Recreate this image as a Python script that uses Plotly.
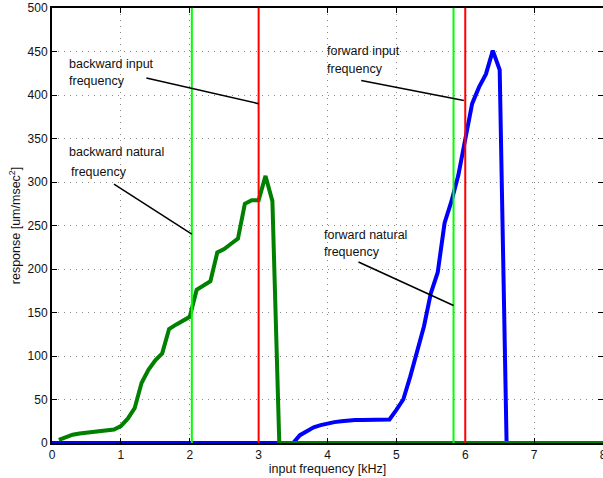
import plotly.graph_objects as go

# ---------------- data ----------------
freq_back = [0.1, 0.2, 0.3, 0.4, 0.5, 0.6, 0.7, 0.8, 0.9, 1.0,
             1.1, 1.2, 1.3, 1.4, 1.5, 1.6, 1.7, 1.8, 1.9, 2.0,
             2.1, 2.2, 2.3, 2.4, 2.5, 2.6, 2.7, 2.8, 2.9, 3.0,
             3.1, 3.2, 3.3, 8.0]
resp_back = [3.5, 7, 9.5, 11, 12, 13, 13.5, 14, 15.5, 19.5,
             28, 40, 69, 84, 95, 103, 131, 136, 141, 145,
             176, 181, 186, 219, 223, 229, 235, 275, 279, 279,
             307, 278, 0, 0]

freq_fwd = [0.0, 3.5, 3.6, 3.7, 3.8, 3.9, 4.0, 4.1, 4.2, 4.3, 4.4,
            4.5, 4.6, 4.7, 4.8, 4.9, 5.0, 5.1, 5.2, 5.3, 5.4,
            5.5, 5.6, 5.7, 5.8, 5.9, 6.0, 6.1, 6.2, 6.3, 6.4,
            6.5, 6.6, 8.0]
resp_fwd = [0, 0, 9, 14, 18, 20.5, 22.5, 24, 25, 26, 26.5,
            26.5, 26.5, 26.5, 27, 27, 38, 50, 76, 105, 134,
            172, 196, 253, 278, 308, 347, 390, 409, 424, 451,
            429, 0, 0]

natural_freqs = [2.03, 5.83]     # green vertical lines
input_freqs = [3.0, 6.0]         # red vertical lines

x_ticks = [0, 1, 2, 3, 4, 5, 6, 7, 8]
y_ticks = [0, 50, 100, 150, 200, 250, 300, 350, 400, 450, 500]

# annotation text lines: (text, x, y)
label_texts = ["backward input", "frequency", "backward natural", "frequency",
               "forward input", "frequency", "forward natural", "frequency"]
label_x = [0.217, 0.217, 0.217, 0.246, 3.957, 3.957, 3.913, 3.913]
label_y = [436, 416, 334.5, 311.4, 451, 430, 238.7, 220]

# pointer lines: (x0, y0, x1, y1)
pointer_x0 = [1.37, 0.90, 4.49, 4.45]
pointer_y0 = [419.6, 297.6, 416.7, 208.0]
pointer_x1 = [3.00, 2.03, 5.98, 5.83]
pointer_y1 = [390.0, 240.0, 393.7, 158.0]

# ---------------- figure ----------------
fig = go.Figure()
fig.add_trace(go.Scatter(x=freq_fwd, y=resp_fwd, mode="lines",
                         line=dict(color="#0000ff", width=4), showlegend=False))
fig.add_trace(go.Scatter(x=freq_back, y=resp_back, mode="lines",
                         line=dict(color="#008000", width=4), showlegend=False))

shapes = []
for xv in natural_freqs:
    shapes.append(dict(type="line", xref="x", yref="y", x0=xv, x1=xv, y0=0, y1=500,
                       line=dict(color="#00ff00", width=2), layer="above"))
for xv in input_freqs:
    shapes.append(dict(type="line", xref="x", yref="y", x0=xv, x1=xv, y0=0, y1=500,
                       line=dict(color="#ff0000", width=2), layer="above"))
for a, b, c, d in zip(pointer_x0, pointer_y0, pointer_x1, pointer_y1):
    shapes.append(dict(type="line", xref="x", yref="y", x0=a, y0=b, x1=c, y1=d,
                       line=dict(color="black", width=1.5), layer="above"))

text_font = dict(family="Liberation Sans, Arial", size=12.5, color="#111")
tick_font = dict(family="Liberation Sans, Arial", size=12, color="#111")

annotations = []
for t, xv, yv in zip(label_texts, label_x, label_y):
    annotations.append(dict(text=t, x=xv, y=yv, xref="x", yref="y",
                            xanchor="left", yanchor="middle", showarrow=False,
                            font=text_font))

fig.update_layout(
    width=603, height=478,
    margin=dict(l=52, r=0, t=8, b=35, pad=0, autoexpand=False),
    paper_bgcolor="white", plot_bgcolor="white",
    font=text_font,
    shapes=shapes, annotations=annotations,
    xaxis=dict(range=[0, 8], tickvals=x_ticks, ticktext=[str(v) for v in x_ticks],
               ticks="inside", ticklen=5, tickcolor="black", tickfont=tick_font,
               ticklabeloverflow="allow",
               showline=True, linecolor="black", linewidth=1.5, mirror="allticks",
               showgrid=True, gridcolor="#8a8a8a", griddash="1px,5px", gridwidth=1,
               zeroline=False, automargin=False,
               title=dict(text="input frequency [kHz]", font=text_font, standoff=2)),
    yaxis=dict(range=[0, 500], tickvals=y_ticks, ticktext=[str(v) for v in y_ticks],
               ticks="inside", ticklen=5, tickcolor="black", tickfont=tick_font,
               ticklabeloverflow="allow",
               showline=True, linecolor="black", linewidth=2, mirror="allticks",
               showgrid=True, gridcolor="#8a8a8a", griddash="1px,5px", gridwidth=1,
               zeroline=False, automargin=False,
               title=dict(text="response [um/msec<sup>2</sup>]", font=text_font, standoff=4)),
)

fig.write_html("out.html", config={"displayModeBar": False},
               post_script="document.body.style.margin='0';document.body.style.overflow='hidden';")
